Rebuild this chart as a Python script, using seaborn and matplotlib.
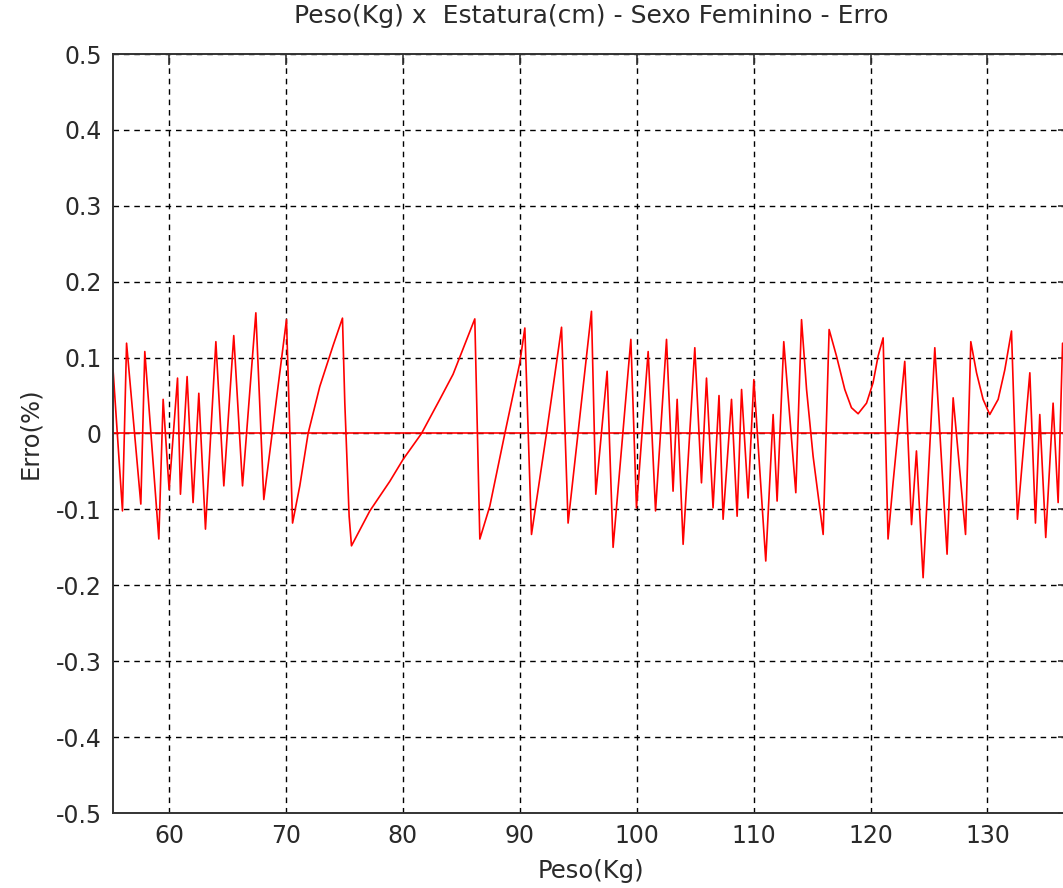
import matplotlib
matplotlib.use("Agg")
import matplotlib.pyplot as plt
import numpy as np
import pandas as pd
import seaborn as sns

# erro relativo, leitura ponto a ponto (picos, vales e algumas rampas)
peso = [55.2, 56.01, 56.36, 57.58, 57.92, 59.12, 59.49, 60.0, 60.72, 60.97,
        61.54, 62.05, 62.54, 63.11, 64.0, 64.68, 65.53, 66.28, 67.42, 68.10,
        70.04, 70.56, 71.18, 71.89, 72.89, 74.03, 74.83, 75.03, 75.40, 75.60,
        77.17, 78.88, 80.02, 81.59, 83.16, 84.29, 86.15, 86.58, 87.43, 88.72,
        90.0, 90.43, 91.0, 92.28, 93.57, 94.13, 96.13, 96.5, 97.47, 97.98,
        99.5, 99.98, 100.98, 101.61, 102.55, 103.11, 103.46, 103.97, 104.97, 105.54,
        105.97, 106.53, 107.04, 107.39, 108.11, 108.59, 108.97, 109.53, 110.02, 111.04,
        111.67, 112.01, 112.58, 113.61, 114.1, 114.53, 115.09, 115.95, 116.46, 117.09,
        117.8, 118.37, 118.94, 119.66, 120.22, 120.65, 121.08, 121.5, 121.93, 122.93,
        123.51, 123.93, 124.5, 125.5, 126.55, 127.07, 128.13, 128.58, 129.07, 129.63,
        130.2, 130.92, 131.49, 132.06, 132.57, 133.63, 134.11, 134.48, 134.99, 135.62,
        136.05, 136.43, 136.8]
erro = [0.085, -0.102, 0.119, -0.093, 0.108, -0.139, 0.045, -0.074, 0.073, -0.080,
        0.075, -0.091, 0.053, -0.126, 0.121, -0.069, 0.129, -0.069, 0.159, -0.087,
        0.150, -0.118, -0.069, 0.0, 0.062, 0.116, 0.152, 0.040, -0.109, -0.148,
        -0.102, -0.063, -0.034, 0.0, 0.045, 0.078, 0.151, -0.139, -0.096, 0.0,
        0.093, 0.139, -0.133, 0.0, 0.140, -0.118, 0.161, -0.080, 0.082, -0.150,
        0.124, -0.098, 0.108, -0.102, 0.124, -0.076, 0.045, -0.146, 0.113, -0.065,
        0.073, -0.098, 0.050, -0.113, 0.045, -0.109, 0.058, -0.085, 0.071, -0.168,
        0.025, -0.089, 0.121, -0.078, 0.150, 0.058, -0.030, -0.133, 0.137, 0.102,
        0.058, 0.034, 0.026, 0.040, 0.067, 0.102, 0.126, -0.139, -0.065, 0.095,
        -0.120, -0.023, -0.190, 0.113, -0.159, 0.047, -0.133, 0.121, 0.080, 0.045,
        0.025, 0.045, 0.084, 0.135, -0.113, 0.080, -0.118, 0.025, -0.137, 0.040,
        -0.091, 0.119, 0.040]

x_ticks = [60, 70, 80, 90, 100, 110, 120, 130]
y_ticks = [-0.5, -0.4, -0.3, -0.2, -0.1, 0, 0.1, 0.2, 0.3, 0.4, 0.5]
y_tick_labels = ["-0.5", "-0.4", "-0.3", "-0.2", "-0.1", "0",
                 "0.1", "0.2", "0.3", "0.4", "0.5"]

sns.set_style("white")
plt.rcParams["font.family"] = ["DejaVu Sans"]

df = pd.DataFrame({"Peso": peso, "Erro": erro})

fig = plt.figure(figsize=(10.63, 8.88), dpi=100)
# eixo passa um pouco da borda direita (sem spine direita visivel)
ax = fig.add_axes([113 / 1063, 75 / 888, 956 / 1063, 759 / 888])

sns.lineplot(data=df, x="Peso", y="Erro", sort=False, estimator=None,
             color="red", linewidth=1.2, ax=ax)
ax.axhline(0, color="red", linewidth=1.2)

ax.set_xlim(55.2, 136.98)
ax.set_ylim(-0.5, 0.5)
ax.set_xticks(x_ticks)
ax.set_xticklabels([str(t) for t in x_ticks])
ax.set_yticks(y_ticks)
ax.set_yticklabels(y_tick_labels)

ax.grid(True, color="black", linestyle=(0, (4, 3.5)), linewidth=1.0)
ax.tick_params(direction="in", top=True, right=True, length=8, width=1.2,
               labelsize=17, colors="#333333", labelcolor="#2a2a2a", pad=8)
for s in ax.spines.values():
    s.set_color("#333333")
    s.set_linewidth(1.4)

ax.set_title("Peso(Kg) x  Estatura(cm) - Sexo Feminino - Erro",
             fontsize=18, color="#2a2a2a", pad=22)
ax.set_xlabel("Peso(Kg)", fontsize=17.5, color="#2a2a2a", labelpad=8)
ax.set_ylabel("Erro(%)", fontsize=17.5, color="#2a2a2a", labelpad=10)

fig.savefig("out.png", dpi=100)
